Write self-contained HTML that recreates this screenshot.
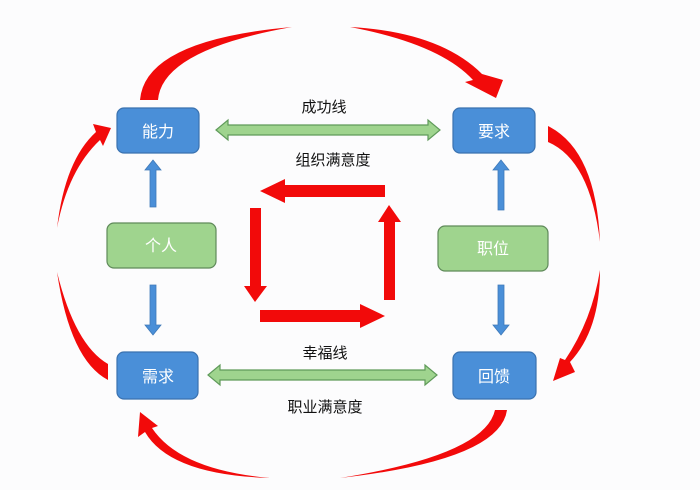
<!DOCTYPE html>
<html><head><meta charset="utf-8"><style>
body{margin:0;background:#fcfcfd;}
svg{display:block}
text{font-family:"Liberation Sans","Noto Sans CJK SC",sans-serif;}
</style></head><body>
<svg width="700" height="490" viewBox="0 0 700 490">
<rect width="700" height="490" fill="#fcfcfd"/>
<g fill="#f20a0a">
<!-- top -->
<path d="M140,100 Q145,40 292,27 Q162,50 158,100 Z"/>
<path d="M350,27 Q440,32 482,74 L503,80 L496,98 L465,82 L473,80 Q440,44 350,27 Z"/>
<!-- right -->
<path d="M548,126 Q596,150 600,242 Q590,160 548,142 Z"/>
<path d="M600,270 Q600,330 570,362 L575,372 L553,381 L560,358 L565,360 Q592,320 600,270 Z"/>
<!-- bottom -->
<path d="M495,410 L507,410 Q500,460 340,478 Q485,455 495,410 Z"/>
<path d="M270,478 Q180,470 152,428 L158,426 L140,412 L138,437 L145,432 Q170,475 270,478 Z"/>
<!-- left -->
<path d="M108,364 L108,380 Q70,360 57,272 Q75,345 108,364 Z"/>
<path d="M57,228 Q65,160 96,132 L93,124 L111,128 L103,146 L100,140 Q68,170 57,228 Z"/>
<!-- center square -->
<rect x="285" y="185" width="100" height="12"/>
<polygon points="260,191 285,179 285,203"/>
<rect x="250" y="208" width="11" height="80"/>
<polygon points="244,286 267,286 255,302"/>
<rect x="260" y="310" width="100" height="12"/>
<polygon points="360,304 360,328 385,316"/>
<rect x="384" y="222" width="11" height="78"/>
<polygon points="378,222 401,222 389,205"/>
</g>
<!-- green double arrows -->
<g fill="#9fd48e" stroke="#5f9a5a" stroke-width="1.2">
<polygon points="216,130 228,120 228,125 428,125 428,120 440,130 428,140 428,135 228,135 228,140"/>
<polygon points="208,375 220,365 220,370 425,370 425,365 437,375 425,385 425,380 220,380 220,385"/>
</g>
<!-- blue small arrows -->
<g fill="#4a8fd8" stroke="#3f79b8" stroke-width="0.8">
<polygon points="153,160 145,170 150,170 150,207 156,207 156,170 161,170"/>
<polygon points="501,160 493,170 498,170 498,210 504,210 504,170 509,170"/>
<polygon points="150,285 156,285 156,325 161,325 153,335 145,325 150,325"/>
<polygon points="498,285 504,285 504,325 509,325 501,335 493,325 498,325"/>
</g>
<!-- blue boxes -->
<g fill="#4a8fd8" stroke="#3a72b0" stroke-width="1.2">
<rect x="117" y="108" width="82" height="45" rx="7"/>
<rect x="453" y="108" width="82" height="45" rx="7"/>
<rect x="117" y="352" width="81" height="47" rx="7"/>
<rect x="453" y="352" width="83" height="47" rx="7"/>
</g>
<g fill="#9fd48e" stroke="#5f8a5a" stroke-width="1.2">
<rect x="107" y="223" width="109" height="45" rx="7"/>
<rect x="438" y="226" width="110" height="45" rx="7"/>
</g>
<g fill="#fff" font-size="16" text-anchor="middle">
<text x="158" y="137">能力</text>
<text x="494" y="137">要求</text>
<text x="158" y="382">需求</text>
<text x="494" y="382">回馈</text>
<text x="161" y="251">个人</text>
<text x="493" y="254">职位</text>
</g>
<g fill="#111" font-size="15" text-anchor="middle">
<text x="324" y="112">成功线</text>
<text x="333" y="165">组织满意度</text>
<text x="325" y="358">幸福线</text>
<text x="325" y="412">职业满意度</text>
</g>
</svg>
</body></html>
